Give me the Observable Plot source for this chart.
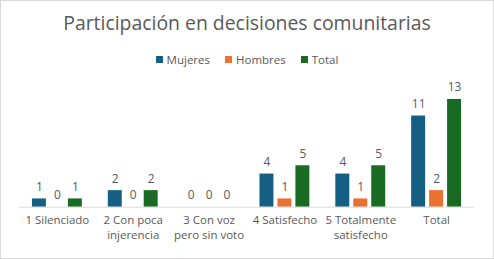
<!DOCTYPE html>
<html><head><meta charset="utf-8">
<script src="https://cdn.jsdelivr.net/npm/d3@7"></script>
<script src="https://cdn.jsdelivr.net/npm/@observablehq/plot@0.6"></script>
<style>
html,body{margin:0;padding:0;background:#fff;}
#wrap{position:relative;width:494px;height:259px;box-sizing:border-box;border:1px solid #d9d9d9;background:#fff;font-family:"Open Sans",sans-serif;color:#595959;overflow:hidden;}
#title{position:absolute;left:0;right:0;top:10px;text-align:center;font-size:19.4px;line-height:24px;}
#legend{position:absolute;left:0;right:0;top:51px;display:flex;justify-content:center;gap:15px;font-size:11.5px;line-height:16px;}
#legend span.sw{display:inline-block;width:7px;height:7px;margin-right:4px;vertical-align:middle;position:relative;top:-1px;}
#chart{position:absolute;left:-1px;top:69px;}
</style></head>
<body><div id="wrap"><div id="title">Participación en decisiones comunitarias</div><div id="legend"></div><div id="chart"></div></div>
<script>
const categories = ["1 Silenciado","2 Con poca\ninjerencia","3 Con voz\npero sin voto","4 Satisfecho","5 Totalmente\nsatisfecho","Total"];
const seriesNames = ["Mujeres","Hombres","Total"];
const mujeres = [1,2,0,4,4,11];
const hombres = [0,0,0,1,1,2];
const total = [1,2,0,5,5,13];
const colors = ["#156082","#E97132","#196B24"];

const seriesValues = [mujeres, hombres, total];
const data = [];
categories.forEach((c,i)=>seriesNames.forEach((s,j)=>data.push({cat:c, series:s, value:seriesValues[j][i]})));

const legend = document.getElementById("legend");
seriesNames.forEach((s,j)=>{
  const d = document.createElement("div");
  d.innerHTML = `<span class="sw" style="background:${colors[j]}"></span>${s}`;
  legend.appendChild(d);
});

const plot = Plot.plot({
  width: 494, height: 190,
  marginLeft: 17, marginRight: 17, marginTop: 29, marginBottom: 53,
  style: {fontFamily: '"Open Sans", sans-serif', fontSize: "11.5px", color: "#595959", background: "transparent"},
  fx: {domain: categories, padding: 0, label: null, axis: null},
  x: {domain: seriesNames, paddingInner: 0.21, paddingOuter: 0.62, axis: null},
  y: {domain: [0,13], axis: null},
  color: {domain: seriesNames, range: colors},
  marks: [
    Plot.barY(data, {fx: "cat", x: "series", y: "value", fill: "series"}),
    Plot.ruleY([0], {stroke: "#d9d9d9", strokeWidth: 1}),
    Plot.text(data, {fx: "cat", x: "series", y: "value", text: d=>String(d.value), lineAnchor: "bottom", dy: -8, fill: "#595959", fontSize: 12}),
    Plot.axisFx({anchor: "bottom", tickSize: 0, tickPadding: 6, lineHeight: 1.3, label: null, fill: "#595959", fontSize: 11.5})
  ]
});
document.getElementById("chart").appendChild(plot);
</script></body></html>
